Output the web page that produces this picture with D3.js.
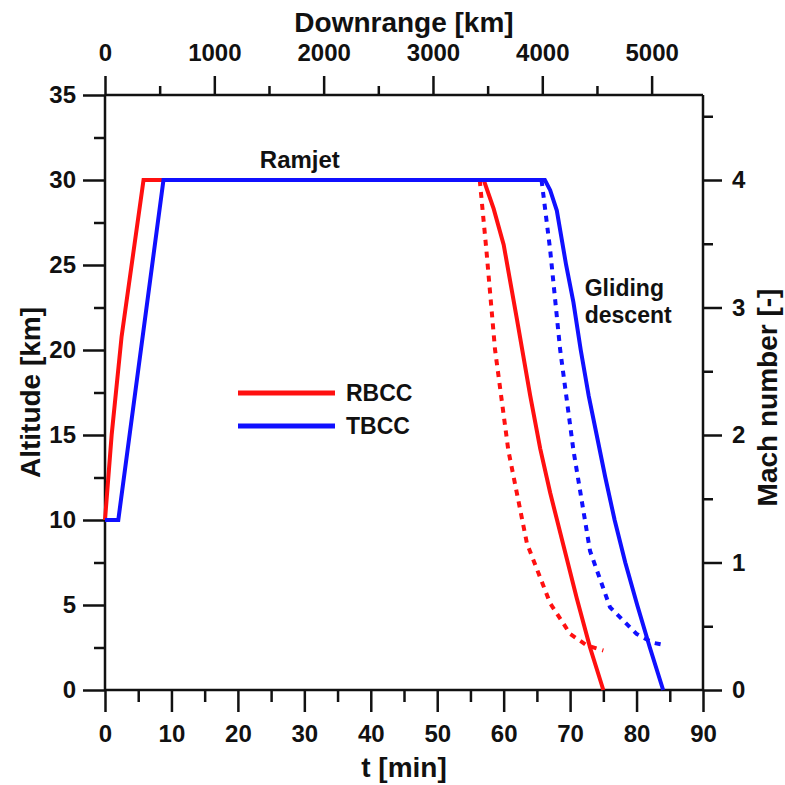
<!DOCTYPE html>
<html>
<head>
<meta charset="utf-8">
<script src="https://cdn.jsdelivr.net/npm/d3@7"></script>
<style>
  body { margin: 0; background: #fff; }
  svg text { font-family: "Liberation Sans", Arial, sans-serif; font-weight: bold; fill: #111; }
  .axis path, .axis line { stroke: #111; stroke-width: 2.5; }
</style>
</head>
<body>
<svg id="chart" width="785" height="785"></svg>
<script>
// time [min] and altitude [km] of the solid curves
var rbccTime = [0, 1, 2.5, 5.8, 57, 58.5, 60, 62, 64, 65.5, 67, 69, 71, 73, 75];
var rbccAlt  = [10, 15, 20.8, 30, 30, 28.3, 26.2, 21.8, 17.3, 14.2, 11.6, 8.5, 5.4, 2.5, 0];
var tbccTime = [0, 2, 8.8, 66.2, 67, 68, 69.4, 70.5, 71.6, 72.8, 74, 75.3, 76.7, 78.3, 80.1, 82, 84];
var tbccAlt  = [10, 10, 30, 30, 29.4, 28.2, 25, 22.8, 20, 17.3, 15, 12.5, 10, 7.5, 5, 2.5, 0];

// dotted curves read on the Mach axis
var rbccMachTime = [56.4, 57.4, 58.7, 60.7, 63.5, 67, 70, 72.5, 75];
var rbccMach     = [4.0, 3.45, 2.67, 1.88, 1.15, 0.68, 0.44, 0.35, 0.31];
var tbccMachTime = [65.7, 67, 68.5, 70.5, 73, 76, 80, 82.5, 84.5];
var tbccMach     = [4.0, 3.45, 2.67, 1.88, 1.09, 0.65, 0.44, 0.37, 0.35];

var timeTicks = [0, 10, 20, 30, 40, 50, 60, 70, 80, 90];
var altTicks = [0, 5, 10, 15, 20, 25, 30, 35];
var rangeTicks = [0, 1000, 2000, 3000, 4000, 5000];
var machTicks = [0, 1, 2, 3, 4];

var svg = d3.select("#chart");
var plotL = 105, plotR = 703, plotT = 95, plotB = 690;

var x = d3.scaleLinear().domain([0, 90]).range([plotL, plotR]);
var y = d3.scaleLinear().domain([0, 35]).range([plotB, plotT]);
var xTop = d3.scaleLinear().domain([0, 5470]).range([plotL, plotR]);
var yMach = d3.scaleLinear().domain([0, 35 * 4 / 30]).range([plotB, plotT]);

// frame lines
svg.append("g").attr("class", "axis").selectAll("line")
  .data([[plotL, plotT, plotR, plotT], [plotL, plotB, plotR, plotB], [plotL, plotT, plotL, plotB], [plotR, plotT, plotR, plotB]])
  .join("line")
  .attr("x1", d => d[0]).attr("y1", d => d[1]).attr("x2", d => d[2]).attr("y2", d => d[3]);

function addAxis(axis, transform, fontSize) {
  var g = svg.append("g").attr("class", "axis").attr("transform", transform).call(axis);
  g.select(".domain").remove();
  g.selectAll("text").style("font-size", fontSize + "px").attr("fill", "#111");
  return g;
}

// bottom
addAxis(d3.axisBottom(x).tickValues(d3.range(5, 90, 10)).tickSize(12).tickFormat(""), `translate(0,${plotB})`, 0);
addAxis(d3.axisBottom(x).tickValues(timeTicks).tickSize(22).tickPadding(13).tickFormat(d3.format("d")), `translate(0,${plotB})`, 24);
// top
addAxis(d3.axisTop(xTop).tickValues(d3.range(500, 5470, 1000)).tickSize(9).tickFormat(""), `translate(0,${plotT})`, 0);
addAxis(d3.axisTop(xTop).tickValues(rangeTicks).tickSize(19).tickPadding(15).tickFormat(d3.format("d")), `translate(0,${plotT})`, 24);
// left
addAxis(d3.axisLeft(y).tickValues(d3.range(2.5, 35, 5)).tickSize(11).tickFormat(""), `translate(${plotL},0)`, 0);
addAxis(d3.axisLeft(y).tickValues(altTicks).tickSize(22).tickPadding(7).tickFormat(d3.format("d")), `translate(${plotL},0)`, 24);
// right
addAxis(d3.axisRight(yMach).tickValues([0.5, 1.5, 2.5, 3.5, 4.5]).tickSize(10).tickFormat(""), `translate(${plotR},0)`, 0);
addAxis(d3.axisRight(yMach).tickValues(machTicks).tickSize(19).tickPadding(10).tickFormat(d3.format("d")), `translate(${plotR},0)`, 24);

// axis titles
svg.append("text").attr("x", (plotL + plotR) / 2).attr("y", 32)
  .attr("text-anchor", "middle").style("font-size", "28px").text("Downrange [km]");
svg.append("text").attr("x", (plotL + plotR) / 2).attr("y", 777)
  .attr("text-anchor", "middle").style("font-size", "28px").text("t [min]");
svg.append("text").attr("transform", `translate(40,${(plotT + plotB) / 2}) rotate(-90)`)
  .attr("text-anchor", "middle").style("font-size", "28px").text("Altitude [km]");
svg.append("text").attr("transform", `translate(777,${(plotT + plotB) / 2 + 5}) rotate(-90)`)
  .attr("text-anchor", "middle").style("font-size", "28px").text("Mach number [-]");

// curves
var altLine = d3.line().x(d => x(d[0])).y(d => y(d[1]));
var machLine = d3.line().x(d => x(d[0])).y(d => yMach(d[1]));

svg.append("path").datum(d3.zip(rbccMachTime, rbccMach)).attr("d", machLine)
  .attr("fill", "none").attr("stroke", "#ff1010").attr("stroke-width", 4).attr("stroke-dasharray", "6,6");
svg.append("path").datum(d3.zip(tbccMachTime, tbccMach)).attr("d", machLine)
  .attr("fill", "none").attr("stroke", "#1010ff").attr("stroke-width", 4).attr("stroke-dasharray", "6,6");
svg.append("path").datum(d3.zip(rbccTime, rbccAlt)).attr("d", altLine)
  .attr("fill", "none").attr("stroke", "#ff1010").attr("stroke-width", 4);
svg.append("path").datum(d3.zip(tbccTime, tbccAlt)).attr("d", altLine)
  .attr("fill", "none").attr("stroke", "#1010ff").attr("stroke-width", 4);

// annotations
svg.append("text").attr("x", x(23.3)).attr("y", y(30.7)).style("font-size", "24px").text("Ramjet");
svg.append("text").attr("x", x(72.2)).attr("y", y(23.2)).style("font-size", "23px").text("Gliding");
svg.append("text").attr("x", x(72.2)).attr("y", y(21.6)).style("font-size", "23px").text("descent");

// legend
var legend = [["RBCC", "#ff1010"], ["TBCC", "#1010ff"]];
var lg = svg.append("g").selectAll("g").data(legend).join("g")
  .attr("transform", (d, i) => `translate(238,${393 + i * 33})`);
lg.append("line").attr("x1", 0).attr("x2", 97).attr("stroke", d => d[1]).attr("stroke-width", 5);
lg.append("text").attr("x", 108).attr("dy", "0.36em").style("font-size", "23px").text(d => d[0]);
</script>
</body>
</html>
